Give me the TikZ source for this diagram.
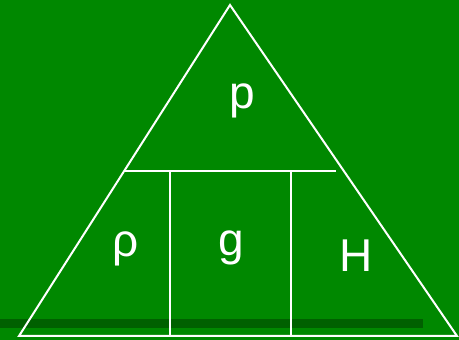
\documentclass[tikz,border=0pt]{standalone}
\usepackage{fontspec}
\setmainfont{Liberation Sans}
\definecolor{bggreen}{RGB}{0,136,0}
\definecolor{bandgreen}{RGB}{0,96,0}
\begin{document}
\begin{tikzpicture}[x=1pt,y=1pt,
  wline/.style={draw=white,line width=2pt},
  lbl/.style={text=white,font=\fontsize{46}{50}\selectfont,anchor=base,inner sep=0pt}]
\fill[bggreen] (0,0) rectangle (459,340);
\useasboundingbox (0,0) rectangle (459,340);
\fill[bandgreen] (0,12) rectangle (423,21);
\coordinate (apex) at (230,335);
\coordinate (bl) at (19,4);
\coordinate (br) at (457,4);
\coordinate (hl) at (124,169);
\coordinate (hr) at (336,169);
\coordinate (v1t) at (170,169);
\coordinate (v1b) at (170,4);
\coordinate (v2t) at (291,169);
\coordinate (v2b) at (291,4);
\draw[wline,line join=miter] (apex) -- (bl) -- (br) -- cycle;
\draw[wline] (hl) -- (hr);
\draw[wline] (v1t) -- (v1b);
\draw[wline] (v2t) -- (v2b);
\node[lbl] (p) at (242,231) {p};
\node[lbl] (rho) at (126,83) {ρ};
\node[lbl] (g) at (231,84) {g};
\node[lbl] (H) at (356,68) {H};
\end{tikzpicture}
\end{document}
